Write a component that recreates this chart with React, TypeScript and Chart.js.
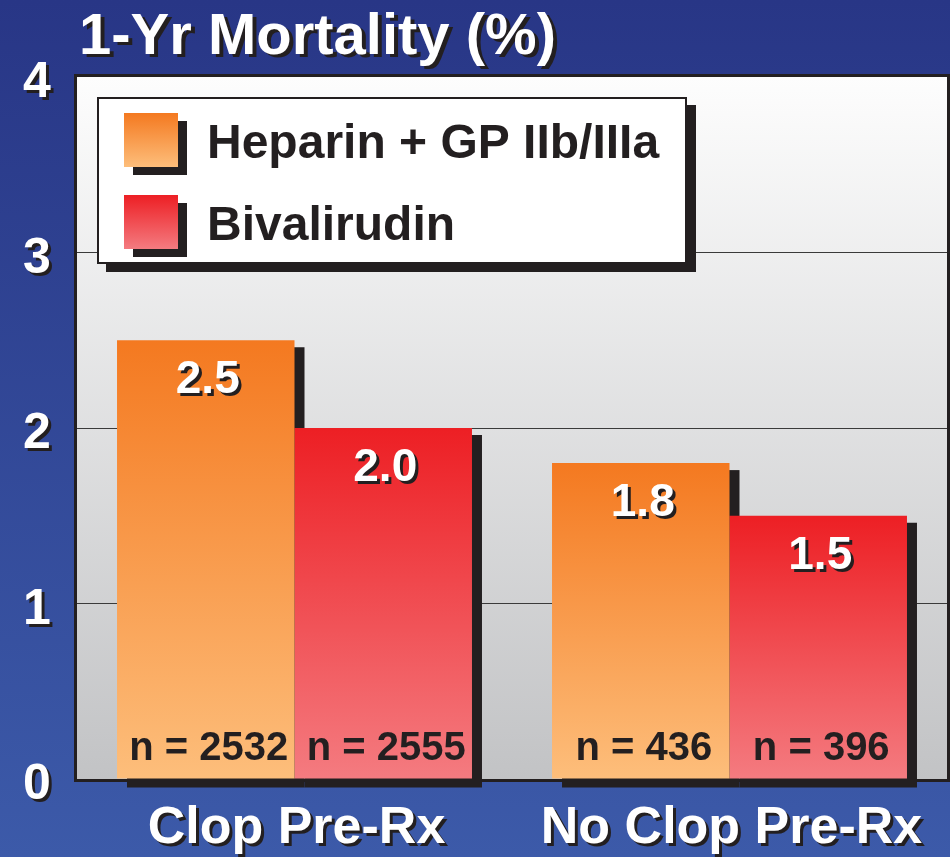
import React, { useEffect, useRef } from "react";
import { Chart, registerables } from "chart.js";

Chart.register(...registerables);

const TITLE = "1-Yr Mortality (%)";
const CATEGORIES = ["Clop Pre-Rx", "No Clop Pre-Rx"];
const SERIES_NAMES = ["Heparin + GP IIb/IIIa", "Bivalirudin"];
const HEPARIN = [2.5, 1.8];
const BIVALIRUDIN = [2.0, 1.5];
const HEPARIN_N = [2532, 436];
const BIVALIRUDIN_N = [2555, 396];
const Y_TICKS = [0, 1, 2, 3, 4];

const FONT = '"Liberation Sans", Arial, Helvetica, sans-serif';
const DARK = "#231f20";
const GRADS = [
  ["#f47920", "#fdbe7b"],
  ["#ed1f24", "#f47b80"],
];

function shadowText(ctx: CanvasRenderingContext2D, text: string, x: number, y: number, color: string, dx: number, dy: number) {
  ctx.fillStyle = DARK;
  ctx.fillText(text, x + dx, y + dy);
  ctx.fillStyle = color;
  ctx.fillText(text, x, y);
}

const decorPlugin = {
  id: "decor",
  beforeDraw(chart: any) {
    const { ctx, chartArea: a, width, height } = chart;
    ctx.save();
    const bg = ctx.createLinearGradient(0, 0, 0, height);
    bg.addColorStop(0, "#283686");
    bg.addColorStop(1, "#3c5aa9");
    ctx.fillStyle = bg;
    ctx.fillRect(0, 0, width, height);
    const pg = ctx.createLinearGradient(0, a.top, 0, a.bottom);
    pg.addColorStop(0, "#fdfdfd");
    pg.addColorStop(1, "#c2c3c5");
    ctx.fillStyle = pg;
    ctx.fillRect(a.left, a.top, a.right - a.left, a.bottom - a.top);
    ctx.restore();
  },
  beforeDatasetsDraw(chart: any) {
    const { ctx, chartArea: a } = chart;
    ctx.save();
    ctx.strokeStyle = DARK;
    ctx.lineWidth = 3;
    ctx.strokeRect(a.left - 1.5, a.top - 1.5, a.right - a.left + 3, a.bottom - a.top + 3);
    // bar shadows
    ctx.fillStyle = DARK;
    chart.data.datasets.forEach((_: any, di: number) => {
      const meta = chart.getDatasetMeta(di);
      meta.data.forEach((bar: any) => {
        const w = bar.width;
        ctx.fillRect(bar.x - w / 2 + 10, bar.y + 7, w, bar.base - bar.y + 2);
      });
    });
    ctx.restore();
  },
  afterDatasetsDraw(chart: any) {
    const { ctx } = chart;
    const nVals = [HEPARIN_N, BIVALIRUDIN_N];
    const zero = chart.scales.y.getPixelForValue(0);
    ctx.save();
    ctx.textAlign = "center";
    ctx.textBaseline = "alphabetic";
    chart.data.datasets.forEach((ds: any, di: number) => {
      const meta = chart.getDatasetMeta(di);
      meta.data.forEach((bar: any, i: number) => {
        ctx.font = `bold 46px ${FONT}`;
        shadowText(ctx, Number(ds.data[i]).toFixed(1), bar.x + 2, bar.y + 53, "#ffffff", 3, 3);
        ctx.font = `bold 40px ${FONT}`;
        ctx.fillStyle = DARK;
        ctx.fillText(`n = ${nVals[di][i]}`, bar.x + 3, zero - 19);
      });
    });
    ctx.restore();
  },
  afterDraw(chart: any) {
    const { ctx } = chart;
    const ys = chart.scales.y;
    const xs = chart.scales.x;
    ctx.save();
    // title
    ctx.textAlign = "left";
    ctx.textBaseline = "alphabetic";
    ctx.font = `bold 58px ${FONT}`;
    shadowText(ctx, TITLE, 79, 54, "#ffffff", 4, 3);
    // y tick labels
    ctx.textAlign = "center";
    ctx.font = `bold 50px ${FONT}`;
    Y_TICKS.forEach((t) => {
      const y = ys.getPixelForValue(t);
      shadowText(ctx, String(t), 37, y + 20, "#ffffff", 3, 3);
    });
    // category labels
    ctx.font = `bold 52px ${FONT}`;
    (chart.data.labels as string[]).forEach((lab, i) => {
      const x = xs.getPixelForValue(i);
      shadowText(ctx, lab, x + 2, 843, "#ffffff", 3, 3);
    });
    // legend
    const L = 97, T = 97, W = 590, H = 167;
    ctx.fillStyle = DARK;
    ctx.fillRect(L + 9, T + 8, W, H);
    ctx.fillStyle = "#ffffff";
    ctx.fillRect(L, T, W, H);
    ctx.strokeStyle = DARK;
    ctx.lineWidth = 2;
    ctx.strokeRect(L + 1, T + 1, W - 2, H - 2);
    chart.data.datasets.forEach((ds: any, di: number) => {
      const sy = 113 + di * 82;
      ctx.fillStyle = DARK;
      ctx.fillRect(124 + 9, sy + 8, 54, 54);
      const g = ctx.createLinearGradient(0, sy, 0, sy + 54);
      g.addColorStop(0, GRADS[di][0]);
      g.addColorStop(1, GRADS[di][1]);
      ctx.fillStyle = g;
      ctx.fillRect(124, sy, 54, 54);
      ctx.textAlign = "left";
      ctx.font = `bold 48px ${FONT}`;
      ctx.fillStyle = DARK;
      ctx.fillText(ds.label, 207, sy + 45);
    });
    ctx.restore();
  },
};

function barGradient(di: number) {
  return (c: any) => {
    const chart = c.chart;
    if (!chart.chartArea || c.type !== "data") return GRADS[di][0];
    const ys = chart.scales.y;
    const top = ys.getPixelForValue(c.raw);
    const bottom = ys.getPixelForValue(0);
    const g = chart.ctx.createLinearGradient(0, top, 0, bottom);
    g.addColorStop(0, GRADS[di][0]);
    g.addColorStop(1, GRADS[di][1]);
    return g;
  };
}

export default function App() {
  const ref = useRef<HTMLCanvasElement | null>(null);
  useEffect(() => {
    if (!ref.current) return;
    const chart = new Chart(ref.current, {
      type: "bar",
      data: {
        labels: CATEGORIES,
        datasets: [
          { label: SERIES_NAMES[0], data: HEPARIN, backgroundColor: barGradient(0), borderWidth: 0 },
          { label: SERIES_NAMES[1], data: BIVALIRUDIN, backgroundColor: barGradient(1), borderWidth: 0 },
        ],
      },
      options: {
        animation: false,
        responsive: false,
        maintainAspectRatio: false,
        layout: { padding: { left: 77, right: 3, top: 77, bottom: 78 } },
        datasets: { bar: { categoryPercentage: 0.816, barPercentage: 1 } },
        plugins: { legend: { display: false }, title: { display: false }, tooltip: { enabled: false } },
        scales: {
          x: { display: false, offset: true },
          y: {
            display: true,
            min: 0,
            max: 4,
            ticks: { display: false, stepSize: 1 },
            border: { display: false },
            grid: {
              drawTicks: false,
              color: (c: any) => (c.tick && (c.tick.value === 0 || c.tick.value === 4) ? "rgba(0,0,0,0)" : "#3a3a3a"),
              lineWidth: 1,
            },
          },
        },
      },
      plugins: [decorPlugin],
    });
    return () => chart.destroy();
  }, []);
  return (
    <div style={{ position: "fixed", left: 0, top: 0, width: 950, height: 857 }}>
      <canvas ref={ref} width={950} height={857} style={{ display: "block" }} />
    </div>
  );
}
